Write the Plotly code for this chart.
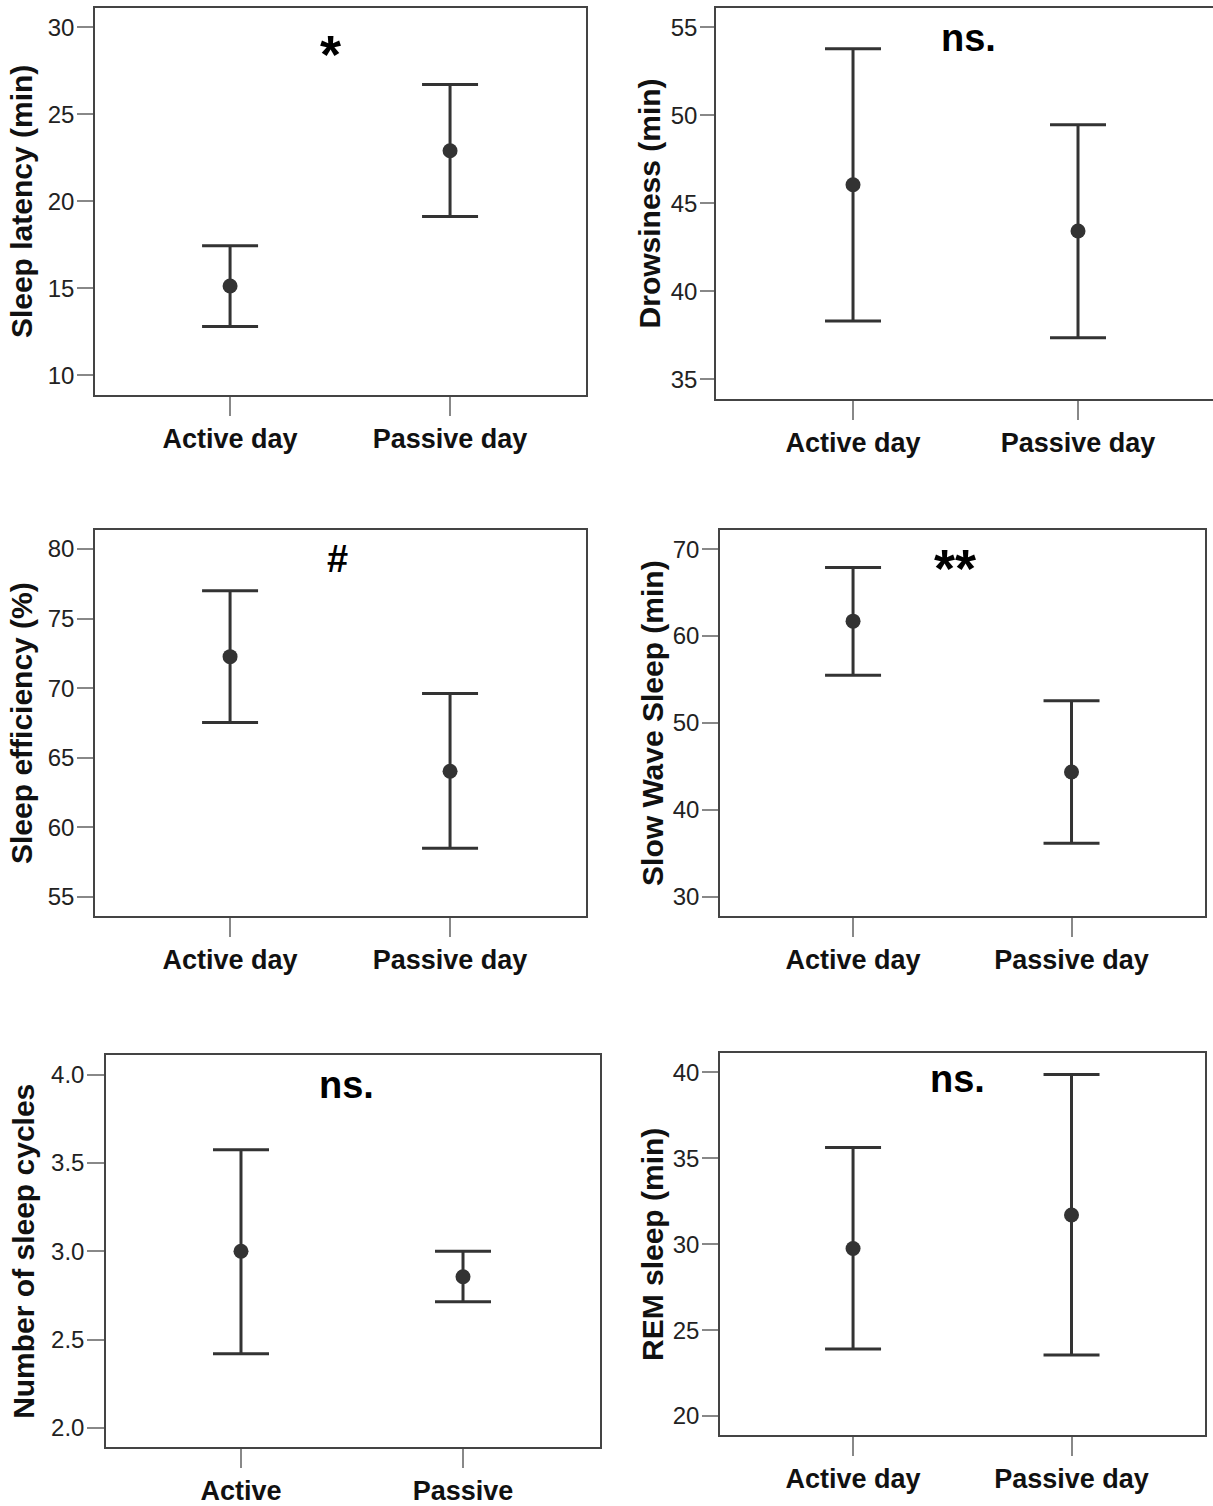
import plotly.graph_objects as go

W, H = 1213, 1506

# ---------------- data ----------------
day_labels = ["Active day", "Passive day"]
cycle_labels = ["Active", "Passive"]

latency_mean = [15.13, 22.90]
latency_upper = [17.44, 26.70]
latency_lower = [12.81, 19.12]

drowsiness_mean = [46.06, 43.43]
drowsiness_upper = [53.79, 49.47]
drowsiness_lower = [38.32, 37.37]

efficiency_mean = [72.26, 64.03]
efficiency_upper = [77.00, 69.62]
efficiency_lower = [67.53, 58.50]

sws_mean = [61.72, 44.35]
sws_upper = [67.90, 52.56]
sws_lower = [55.50, 36.15]

cycles_mean = [3.00, 2.856]
cycles_upper = [3.575, 3.00]
cycles_lower = [2.42, 2.715]

rem_mean = [29.75, 31.70]
rem_upper = [35.62, 39.87]
rem_lower = [23.90, 23.55]

latency_ticks = [10, 15, 20, 25, 30]
drowsiness_ticks = [35, 40, 45, 50, 55]
efficiency_ticks = [55, 60, 65, 70, 75, 80]
sws_ticks = [30, 40, 50, 60, 70]
cycles_ticks = [2.0, 2.5, 3.0, 3.5, 4.0]
cycles_ticktext = ["2.0", "2.5", "3.0", "3.5", "4.0"]
rem_ticks = [20, 25, 30, 35, 40]

# ---------------- layout helpers ----------------
YS = 1.004  # small vertical correction

def px_x(p):
    return p / W

def px_y(p):
    return 1 - (p * YS) / H

FONT = "Liberation Sans, Arial, sans-serif"
INK = "#333333"

panels = [
    dict(cats=day_labels, mean=latency_mean, up=latency_upper, lo=latency_lower,
         ticks=latency_ticks, ticktext=None, title="Sleep latency (min)", standoff=6, ylen=16,
         box=(95, 586, 8, 397), yrange=[8.88, 31.1], xrange=[-0.614, 1.618],
         sig="*", sigpos=(331, 54), sigsize=54, mirror_y=True),
    dict(cats=day_labels, mean=drowsiness_mean, up=drowsiness_upper, lo=drowsiness_lower,
         ticks=drowsiness_ticks, ticktext=None, title="Drowsiness (min)", standoff=1, ylen=14,
         box=(716, 1213, 8, 401), yrange=[33.89, 56.11], xrange=[-0.609, 1.60],
         sig="ns.", sigpos=(968, 38), sigsize=38, mirror_y=False),
    dict(cats=day_labels, mean=efficiency_mean, up=efficiency_upper, lo=efficiency_lower,
         ticks=efficiency_ticks, ticktext=None, title="Sleep efficiency (%)", standoff=6, ylen=16,
         box=(95, 586, 533, 921), yrange=[53.62, 81.35], xrange=[-0.614, 1.618],
         sig="#", sigpos=(337, 562), sigsize=38, mirror_y=True),
    dict(cats=day_labels, mean=sws_mean, up=sws_upper, lo=sws_lower,
         ticks=sws_ticks, ticktext=None, title="Slow Wave Sleep (min)", standoff=0, ylen=16,
         box=(720, 1205, 533, 921), yrange=[27.75, 72.2], xrange=[-0.609, 1.611],
         sig="**", sigpos=(955, 571), sigsize=54, mirror_y=True),
    dict(cats=cycle_labels, mean=cycles_mean, up=cycles_upper, lo=cycles_lower,
         ticks=cycles_ticks, ticktext=cycles_ticktext, title="Number of sleep cycles", standoff=8, ylen=17,
         box=(106, 600, 1061, 1455), yrange=[1.891, 4.109], xrange=[-0.608, 1.617],
         sig="ns.", sigpos=(346, 1091), sigsize=38, mirror_y=True),
    dict(cats=day_labels, mean=rem_mean, up=rem_upper, lo=rem_lower,
         ticks=rem_ticks, ticktext=None, title="REM sleep (min)", standoff=0, ylen=16,
         box=(720, 1205, 1059, 1443), yrange=[18.88, 41.1], xrange=[-0.609, 1.611],
         sig="ns.", sigpos=(957, 1085), sigsize=38, mirror_y=True),
]

fig = go.Figure()
annotations = []
layout_axes = {}

for i, p in enumerate(panels, start=1):
    xa = "x" if i == 1 else f"x{i}"
    ya = "y" if i == 1 else f"y{i}"
    err_plus = [u - m for u, m in zip(p["up"], p["mean"])]
    err_minus = [m - l for m, l in zip(p["mean"], p["lo"])]
    fig.add_trace(go.Scatter(
        x=p["cats"], y=p["mean"], mode="markers",
        marker=dict(size=15, color=INK),
        error_y=dict(type="data", symmetric=False, array=err_plus, arrayminus=err_minus,
                     color=INK, thickness=3, width=28),
        xaxis=xa, yaxis=ya, showlegend=False, cliponaxis=False,
    ))
    x0, x1, y0, y1 = p["box"]
    xkey = "xaxis" if i == 1 else f"xaxis{i}"
    ykey = "yaxis" if i == 1 else f"yaxis{i}"
    layout_axes[xkey] = dict(
        domain=[px_x(x0), min(1.0, px_x(x1))],
        anchor=ya, type="category", categoryorder="array", categoryarray=p["cats"],
        range=p["xrange"], showgrid=False, zeroline=False,
        showline=True, linecolor="#444444", linewidth=1.5, mirror=True,
        ticks="outside", ticklen=19, tickwidth=1.5, tickcolor="#888888",
        tickfont=dict(family=FONT, size=27, color="#111111", weight="bold"),
    )
    yax = dict(
        domain=[px_y(y1), px_y(y0)],
        anchor=xa, range=p["yrange"], showgrid=False, zeroline=False,
        showline=True, linecolor="#444444", linewidth=1.5, mirror=p["mirror_y"],
        ticks="outside", ticklen=p["ylen"], tickwidth=1.5, tickcolor="#888888",
        tickvals=p["ticks"], ticklabelstandoff=-2,
        tickfont=dict(family=FONT, size=24, color="#222222"),
        title=dict(text=p["title"], standoff=p["standoff"],
                   font=dict(family=FONT, size=30, color="#111111", weight="bold")),
    )
    if p["ticktext"] is not None:
        yax["ticktext"] = p["ticktext"]
    layout_axes[ykey] = yax
    sx, sy = p["sigpos"]
    annotations.append(dict(
        text=p["sig"], xref="paper", yref="paper", x=px_x(sx), y=px_y(sy),
        xanchor="center", yanchor="middle", showarrow=False,
        font=dict(family=FONT, size=p["sigsize"], color="#000000", weight="bold"),
    ))

fig.update_layout(
    width=W, height=H,
    margin=dict(l=0, r=0, t=0, b=0),
    paper_bgcolor="white", plot_bgcolor="white",
    annotations=annotations,
    **layout_axes,
)

fig.write_html("out.html")
